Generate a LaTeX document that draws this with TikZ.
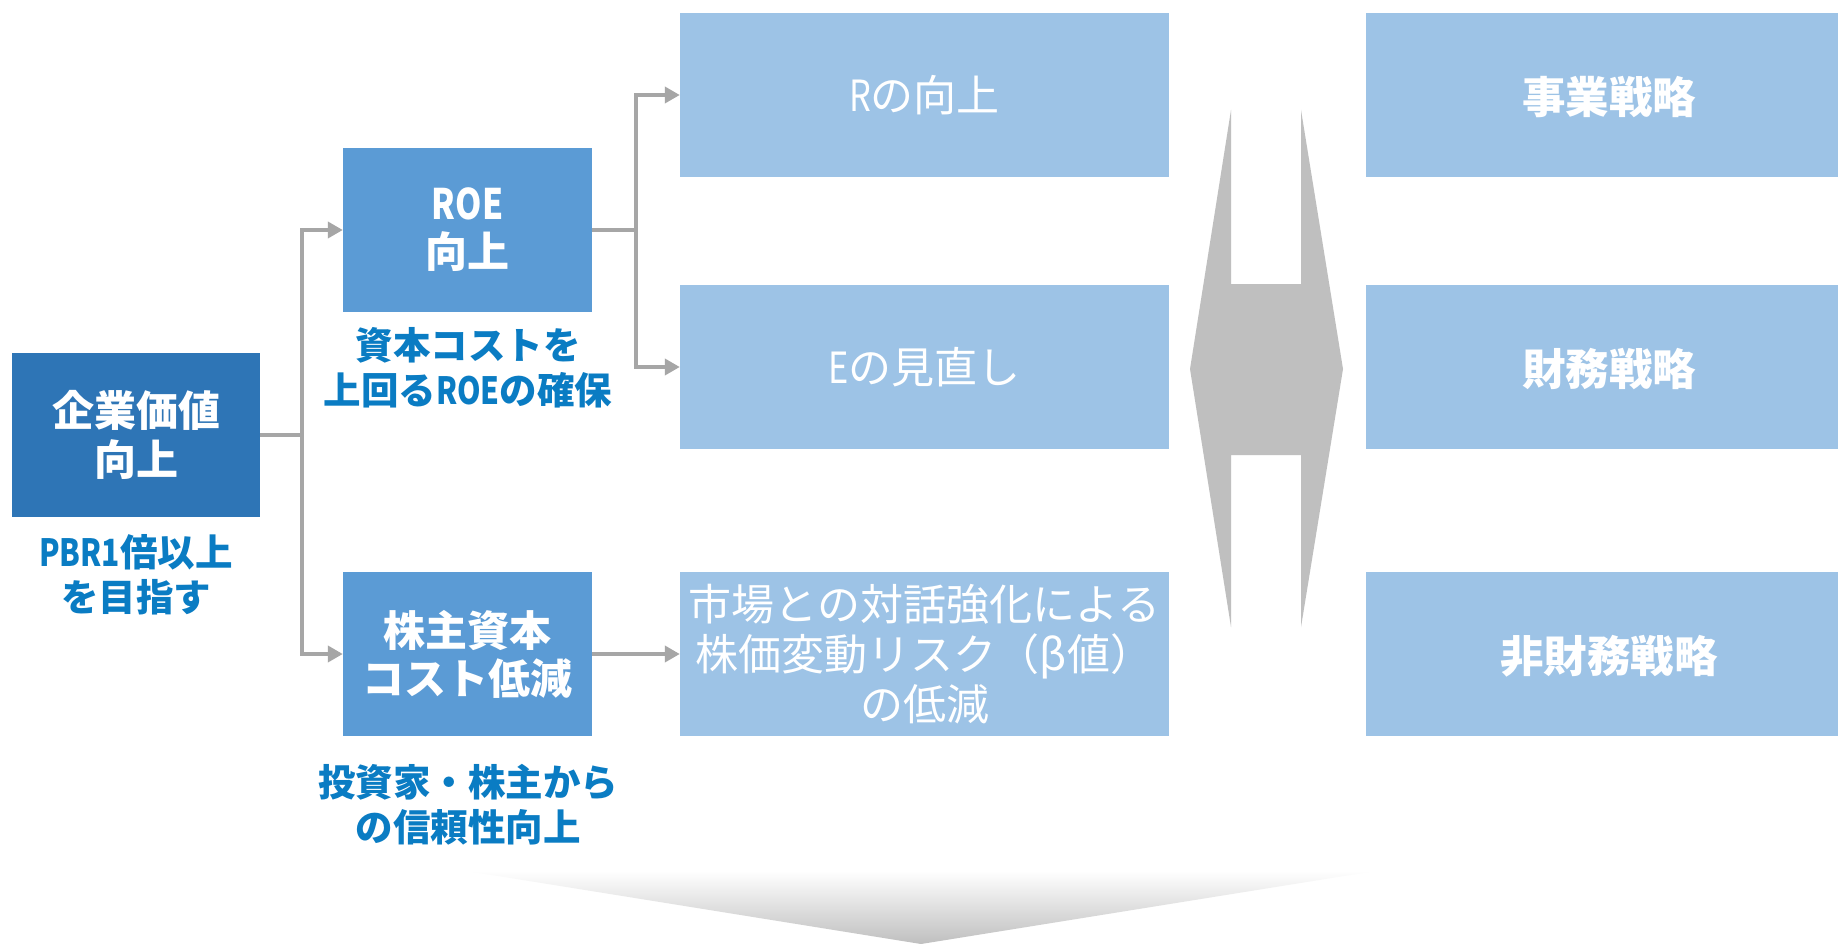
\documentclass[tikz,border=0pt]{standalone}
\usepackage{fontspec}
\usepackage{graphicx}
\setmainfont{Noto Sans CJK JP}
\usetikzlibrary{arrows.meta,calc}
\definecolor{dkblue}{HTML}{2E75B6}
\definecolor{mdblue}{HTML}{5B9BD5}
\definecolor{ltblue}{HTML}{9DC3E6}
\definecolor{lblblue}{HTML}{0A7CC3}
\definecolor{conngray}{HTML}{A6A6A6}
\definecolor{arrgray}{HTML}{BFBFBF}
\newcommand\nar[1]{\scalebox{0.8}[1]{#1}}
\tikzset{
  basebox/.style={inner sep=0pt, minimum height=164pt, text=white, align=center},
  darkbox/.style={basebox, fill=dkblue, minimum width=248pt, font=\bfseries\fontsize{42}{49}\selectfont},
  midbox/.style={basebox, fill=mdblue, minimum width=249pt, font=\bfseries\fontsize{42}{48}\selectfont},
  lightbox/.style={basebox, fill=ltblue, minimum width=489pt, font=\fontsize{43}{50}\selectfont},
  stratbox/.style={basebox, fill=ltblue, minimum width=472pt, font=\bfseries\fontsize{43.5}{48}\selectfont},
  strattext/.style={inner sep=0pt, text=white, font=\bfseries\fontsize{43.5}{48}\selectfont},
  lbl/.style={inner sep=0pt, text=lblblue, align=center, font=\bfseries\fontsize{37.5}{45}\selectfont},
  conn/.style={draw=conngray, line width=4pt},
  arr/.style={conn, -{Triangle[length=15pt,width=16pt]}},
}
\begin{document}
\begin{tikzpicture}[x=1pt,y=-1pt]
\useasboundingbox (0,0) rectangle (1838,944);
\fill[white] (0,0) rectangle (1838,944);
% bottom gradient chevron
\shade[top color=white, bottom color=arrgray] (467,871) -- (1375,871) -- (921,944) -- cycle;
% left boxes
\node[darkbox] (kigyo) at (136,435) {企業価値\\向上};
\node[lbl] (pbr) at (136,575) {\nar{PBR1}倍以上\\を目指す};
\node[midbox] (roe) at (467.5,230) {\nar{ROE}\\向上};
\node[lbl] (shihon) at (468,368) {資本コストを\\上回る\nar{ROE}の確保};
\node[midbox] (kabu) at (467.5,654) {株主資本\\コスト低減};
\node[lbl] (toushi) at (468,805) {投資家・株主から\\の信頼性向上};
% middle boxes
\node[lightbox] (rup) at (924.5,95) {\nar{R}の向上};
\node[lightbox] (emi) at (924.5,367) {\nar{E}の見直し};
\node[lightbox] (shijo) at (924.5,654) {市場との対話強化による\\株価変動リスク（β値）\\の低減};
% right boxes
\node[stratbox] (jigyo) at (1602,95) {};
\node[stratbox] (zaimu) at (1602,367) {};
\node[stratbox] (hizaimu) at (1602,654) {};
\node[strattext] (jigyot) at (1609,97) {事業戦略};
\node[strattext] (zaimut) at (1609,369) {財務戦略};
\node[strattext] (hizaimut) at (1609,656) {非財務戦略};
% double arrow
\fill[arrgray] (1231,110) -- (1231,284) -- (1301,284) -- (1301,110) -- (1343,369)
  -- (1301,627) -- (1301,455) -- (1231,455) -- (1231,627) -- (1190,369) -- cycle;
% connectors
\coordinate (j1) at (302,435);
\coordinate (j2) at (636,230);
\draw[conn] (kigyo.east) -- (j1);
\draw[arr] (j1) |- (roe.west);
\draw[arr] (j1) |- (kabu.west);
\draw[conn] (roe.east) -- (j2);
\draw[arr] (j2) |- (rup.west);
\draw[arr] (j2) |- (emi.west);
\draw[arr] (kabu.east) -- (shijo.west);
\end{tikzpicture}
\end{document}
